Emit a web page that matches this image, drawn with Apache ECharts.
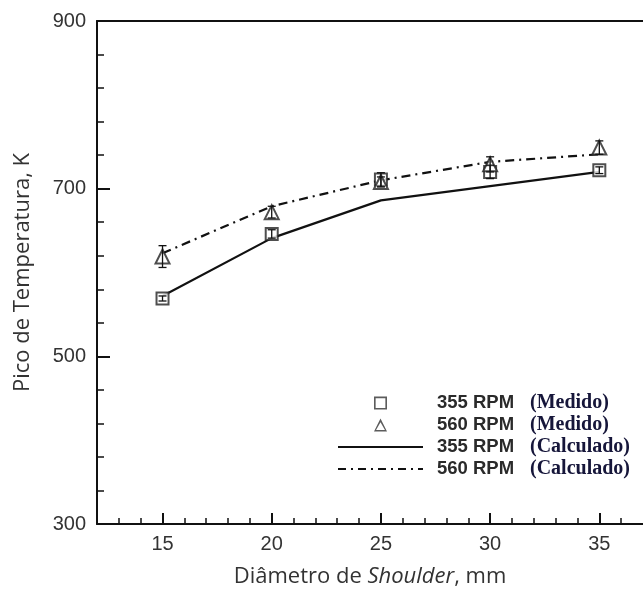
<!DOCTYPE html>
<html>
<head>
<meta charset="utf-8">
<script src="https://cdn.jsdelivr.net/npm/echarts@6/dist/echarts.min.js"></script>
<style>
html,body{margin:0;padding:0;background:#fff;}
#chart{width:643px;height:593px;}
</style>
</head>
<body>
<div id="chart"></div>
<script>
// ---- data ----
var diameters = [15, 20, 25, 30, 35];
var measured355 = [569, 646, 711, 720, 722];
var measured560 = [619, 672, 708, 729, 749];
var err355 = [3, 5, 8, 8, 4];
var err560 = [13, 7, 6, 9, 8];
var calc355 = [572, 641, 686, 703, 720];
var calc560 = [623, 679, 710, 732, 741];
var xTickLabels = [15, 20, 25, 30, 35];
var xMinorTicks = [13, 14, 16, 17, 18, 19, 21, 22, 23, 24, 26, 27, 28, 29, 31, 32, 33, 34, 36];
var yTickLabels = [300, 500, 700, 900];
var yMinorTicks = [340, 380, 420, 460, 540, 580, 620, 660, 740, 780, 820, 860];
var legendNames = ['355 RPM (Medido)', '560 RPM (Medido)', '355 RPM (Calculado)', '560 RPM (Calculado)'];

// legend icon shapes (styling only)
var iconSquare = 'path://M0,0H12V12H0Z M1.5,1.5V10.5H10.5V1.5Z';
var iconTriangle = 'path://M6,0L12,12L0,12Z M6,3.4L1.9,10.6L10.1,10.6Z';
var iconSolid = 'path://M0,0H85V2.2H0Z';
var iconDashDot = 'path://M0,0H8V2.2H0Z M13,0H15V2.2H13Z M20,0H28V2.2H20Z M33,0H35V2.2H33Z M40,0H48V2.2H40Z M53,0H55V2.2H53Z M60,0H68V2.2H60Z M73,0H75V2.2H73Z M80,0H85V2.2H80Z';

function pairs(xs, ys) { return xs.map(function (x, i) { return [x, ys[i]]; }); }
function errData(xs, ys, es) { return xs.map(function (x, i) { return [x, ys[i] - es[i], ys[i] + es[i]]; }); }

function errRender(params, api) {
  var x = api.value(0);
  var lo = api.coord([x, api.value(1)]);
  var hi = api.coord([x, api.value(2)]);
  var cap = 4;
  var st = { stroke: '#111', lineWidth: 1.3 };
  return {
    type: 'group',
    children: [
      { type: 'line', shape: { x1: lo[0], y1: lo[1], x2: hi[0], y2: hi[1] }, style: st },
      { type: 'line', shape: { x1: lo[0] - cap, y1: lo[1], x2: lo[0] + cap, y2: lo[1] }, style: st },
      { type: 'line', shape: { x1: hi[0] - cap, y1: hi[1], x2: hi[0] + cap, y2: hi[1] }, style: st }
    ]
  };
}

var chart = echarts.init(document.getElementById('chart'), null, { renderer: 'canvas' });
var labelFont = 'Liberation Sans, Arial, sans-serif';
var nameFont = '"Open Sans", "Noto Sans", sans-serif';

var option = {
  backgroundColor: '#fff',
  animation: false,
  grid: { left: 97, top: 21, right: -9, bottom: 66, containLabel: false },
  xAxis: [
    {
      type: 'value', min: 12, max: 37, position: 'bottom',
      axisLine: { show: true, lineStyle: { color: '#111', width: 2 } },
      axisTick: { show: true, inside: true, length: 11, customValues: xTickLabels, lineStyle: { color: '#111', width: 2 } },
      axisLabel: { show: true, customValues: xTickLabels, margin: 10, fontFamily: labelFont, fontSize: 20, color: '#333' },
      splitLine: { show: false },
      name: 'Diâmetro de {i|Shoulder}, mm',
      nameLocation: 'middle', nameGap: 42,
      nameTextStyle: { fontFamily: nameFont, fontSize: 22, color: '#333',
        rich: { i: { fontStyle: 'italic', fontFamily: nameFont, fontSize: 22, color: '#333' } } }
    },
    {
      type: 'value', min: 12, max: 37, position: 'bottom',
      axisLine: { show: false },
      axisTick: { show: true, inside: true, length: 6, customValues: xMinorTicks, lineStyle: { color: '#111', width: 1.5 } },
      axisLabel: { show: false },
      splitLine: { show: false }
    },
    {
      type: 'value', min: 12, max: 37, position: 'top',
      axisLine: { show: true, lineStyle: { color: '#111', width: 2 } },
      axisTick: { show: false }, axisLabel: { show: false }, splitLine: { show: false }
    }
  ],
  yAxis: [
    {
      type: 'value', min: 300, max: 900, position: 'left',
      axisLine: { show: true, lineStyle: { color: '#111', width: 2 } },
      axisTick: { show: true, inside: true, length: 13, customValues: yTickLabels, lineStyle: { color: '#111', width: 2 } },
      axisLabel: { show: true, customValues: yTickLabels, margin: 11, fontFamily: labelFont, fontSize: 20, color: '#333' },
      splitLine: { show: false },
      name: 'Pico de Temperatura, K',
      nameLocation: 'middle', nameGap: 63, nameRotate: 90,
      nameTextStyle: { fontFamily: nameFont, fontSize: 22, color: '#333' }
    },
    {
      type: 'value', min: 300, max: 900, position: 'left', offset: 0,
      axisLine: { show: false },
      axisTick: { show: true, inside: true, length: 7, customValues: yMinorTicks, lineStyle: { color: '#111', width: 1.5 } },
      axisLabel: { show: false },
      splitLine: { show: false }
    }
  ],
  legend: {
    orient: 'vertical', left: 338, top: 393, padding: 0,
    itemWidth: 85, itemHeight: 13, itemGap: 2,
    symbolKeepAspect: true,
    data: [
      { name: legendNames[0], icon: iconSquare, itemStyle: { color: '#333', borderWidth: 0 } },
      { name: legendNames[1], icon: iconTriangle, itemStyle: { color: '#333', borderWidth: 0 } },
      { name: legendNames[2], icon: iconSolid, itemStyle: { color: '#111', borderWidth: 0 } },
      { name: legendNames[3], icon: iconDashDot, itemStyle: { color: '#111', borderWidth: 0 } }
    ],
    selectedMode: false,
    formatter: function (name) {
      var i = name.indexOf(' (');
      return '{a|' + name.slice(0, i) + '}{b|' + name.slice(i + 1) + '}';
    },
    textStyle: {
      padding: [0, 0, 0, 9],
      lineHeight: 20,
      rich: {
        a: { fontFamily: labelFont, fontWeight: 'bold', fontSize: 18.5, color: '#2a2a2a', width: 93, lineHeight: 20 },
        b: { fontFamily: '"Liberation Serif", "Times New Roman", serif', fontWeight: 'bold', fontSize: 20, color: '#16163a', lineHeight: 20 }
      }
    }
  },
  series: [
    {
      name: legendNames[2], type: 'line', xAxisIndex: 0, yAxisIndex: 0,
      data: pairs(diameters, calc355), symbol: 'none', showSymbol: false,
      lineStyle: { color: '#111', width: 2.2, type: 'solid' }, itemStyle: { color: '#111' }, z: 2
    },
    {
      name: legendNames[3], type: 'line', xAxisIndex: 0, yAxisIndex: 0,
      data: pairs(diameters, calc560), symbol: 'none', showSymbol: false,
      lineStyle: { color: '#111', width: 2.2, type: [9, 5, 2, 5] }, itemStyle: { color: '#111' }, z: 2
    },
    {
      name: legendNames[0], type: 'scatter', xAxisIndex: 0, yAxisIndex: 0,
      data: pairs(diameters, measured355), symbol: 'emptyRect', symbolSize: 12,
      itemStyle: { color: '#222', borderColor: '#222', borderWidth: 1.5 }, z: 3
    },
    {
      name: legendNames[1], type: 'scatter', xAxisIndex: 0, yAxisIndex: 0,
      data: pairs(diameters, measured560), symbol: 'emptyTriangle', symbolSize: 14,
      itemStyle: { color: '#222', borderColor: '#222', borderWidth: 1.5 }, z: 3
    },
    {
      name: 'err355', type: 'custom', xAxisIndex: 0, yAxisIndex: 0,
      data: errData(diameters, measured355, err355), renderItem: errRender, z: 4
    },
    {
      name: 'err560', type: 'custom', xAxisIndex: 0, yAxisIndex: 0,
      data: errData(diameters, measured560, err560), renderItem: errRender, z: 4
    }
  ]
};
chart.setOption(option);
</script>
</body>
</html>
